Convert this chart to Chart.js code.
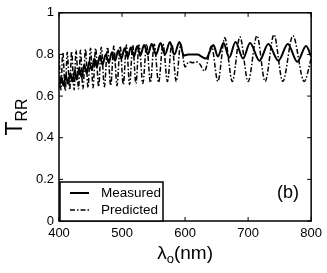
<!DOCTYPE html>
<html>
<head>
<meta charset="utf-8">
<script src="https://cdn.jsdelivr.net/npm/chart.js@4.4.0/dist/chart.umd.min.js"></script>
<style>
  html, body { margin: 0; padding: 0; background: #fff; }
  #wrap { width: 327px; height: 273px; }
</style>
</head>
<body>
<div id="wrap"><canvas id="trrChart"></canvas></div>
<script>
// ---- data (wavelength nm, T_RR) ----
const xTicks = [400, 500, 600, 700, 800];
const yTicks = [0, 0.2, 0.4, 0.6, 0.8, 1];

const measuredX = [400, 404, 407, 411, 414, 418, 421, 425, 428, 432, 436, 440, 444, 448, 452, 456, 460, 465, 469, 474,
  479, 484, 489, 494, 499, 504, 509, 514, 519, 524, 529, 535, 541, 547, 554, 561, 568, 576, 583, 591,
  598, 605, 612, 620, 626, 633, 645, 652, 661, 670, 680, 692, 703, 718, 732, 748, 763, 778, 792, 800];
const measuredY = [0.64, 0.69, 0.65, 0.70, 0.66, 0.71, 0.67, 0.72, 0.68, 0.735, 0.69, 0.75, 0.71, 0.765, 0.725, 0.78, 0.74, 0.795, 0.75, 0.80,
  0.76, 0.81, 0.77, 0.82, 0.78, 0.83, 0.785, 0.835, 0.79, 0.84, 0.795, 0.845, 0.80, 0.85, 0.80, 0.855, 0.80, 0.86, 0.80, 0.86,
  0.795, 0.80, 0.80, 0.80, 0.79, 0.78, 0.845, 0.79, 0.855, 0.785, 0.86, 0.78, 0.855, 0.77, 0.85, 0.77, 0.85, 0.765, 0.84, 0.79];

const predictedX = [400, 403, 406, 410, 413, 417, 420, 424, 427, 431, 434, 438, 442, 446, 450, 454, 458, 463, 467, 472,
  477, 482, 487, 492, 497, 502, 507, 512, 517, 522, 527, 533, 539, 545, 551, 558, 565, 572, 579, 586,
  593, 600, 606, 612, 617, 623, 631, 642, 652, 663, 675, 687, 700, 714, 727, 741, 755, 771, 789, 800];
const predictedY = [0.80, 0.63, 0.81, 0.625, 0.81, 0.63, 0.815, 0.63, 0.82, 0.635, 0.82, 0.635, 0.825, 0.64, 0.83, 0.64, 0.83, 0.645, 0.835, 0.645,
  0.835, 0.65, 0.84, 0.65, 0.84, 0.655, 0.845, 0.655, 0.845, 0.66, 0.845, 0.66, 0.85, 0.665, 0.85, 0.665, 0.85, 0.67, 0.85, 0.67,
  0.85, 0.74, 0.765, 0.76, 0.765, 0.755, 0.72, 0.84, 0.67, 0.88, 0.67, 0.885, 0.67, 0.89, 0.67, 0.895, 0.67, 0.89, 0.67, 0.78];

const toPoints = (xs, ys) => xs.map((x, i) => ({ x: x, y: ys[i] }));
const FONT = '"Liberation Sans", Arial, Helvetica, sans-serif';
const DASH_DOT = [5, 2, 1.5, 2];

// ---- matlab-ish frame: box, inward ticks, legend, titles ----
const framePlugin = {
  id: 'frame',
  afterDraw(chart) {
    const ctx = chart.ctx;
    const a = chart.chartArea;
    const sx = chart.scales.x, sy = chart.scales.y;
    ctx.save();
    ctx.strokeStyle = '#000';
    ctx.lineWidth = 1.5;
    ctx.strokeRect(a.left, a.top, a.right - a.left, a.bottom - a.top);

    // inward tick marks on all four sides
    ctx.lineWidth = 1;
    ctx.beginPath();
    xTicks.forEach(v => {
      const px = sx.getPixelForValue(v);
      ctx.moveTo(px, a.bottom); ctx.lineTo(px, a.bottom - 4);
      ctx.moveTo(px, a.top); ctx.lineTo(px, a.top + 4);
    });
    yTicks.forEach(v => {
      const py = sy.getPixelForValue(v);
      ctx.moveTo(a.left, py); ctx.lineTo(a.left + 4, py);
      ctx.moveTo(a.right, py); ctx.lineTo(a.right - 4, py);
    });
    ctx.stroke();

    // legend box, lower left
    const lx = a.left + 1, ly = 182, lw = 103, lh = a.bottom - ly;
    ctx.fillStyle = '#fff';
    ctx.fillRect(lx, ly, lw, lh);
    ctx.lineWidth = 1.5;
    ctx.strokeRect(lx, ly, lw, lh);
    ctx.lineWidth = 2;
    ctx.beginPath(); ctx.moveTo(70, 193); ctx.lineTo(89, 193); ctx.stroke();
    ctx.lineWidth = 1.4;
    ctx.setLineDash(DASH_DOT);
    ctx.beginPath(); ctx.moveTo(70, 210); ctx.lineTo(89, 210); ctx.stroke();
    ctx.setLineDash([]);
    ctx.fillStyle = '#000';
    ctx.font = '13.5px ' + FONT;
    ctx.textBaseline = 'middle';
    ctx.textAlign = 'left';
    ctx.fillText('Measured', 101, 193);
    ctx.fillText('Predicted', 101, 210);

    // panel tag
    ctx.font = '18px ' + FONT;
    ctx.fillText('(b)', 277, 193);

    // x title: λo(nm) with subscript o
    ctx.textBaseline = 'alphabetic';
    const big = '19px ' + FONT, small = '13px ' + FONT;
    ctx.font = big; const w1 = ctx.measureText('\u03bb').width, w3 = ctx.measureText('(nm)').width;
    ctx.font = small; const w2 = ctx.measureText('o').width;
    const x0 = (a.left + a.right) / 2 - (w1 + w2 + w3) / 2;
    const by = 259;
    ctx.font = big; ctx.fillText('\u03bb', x0, by);
    ctx.font = small; ctx.fillText('o', x0 + w1, by + 4);
    ctx.font = big; ctx.fillText('(nm)', x0 + w1 + w2, by);

    // y title: T_RR rotated
    ctx.translate(22, (a.top + a.bottom) / 2);
    ctx.rotate(-Math.PI / 2);
    const tBig = '23px ' + FONT, tSmall = '16px ' + FONT;
    ctx.font = tBig; const t1 = ctx.measureText('T').width;
    ctx.font = tSmall; const t2 = ctx.measureText('RR').width;
    const tx = -(t1 + t2) / 2;
    ctx.font = tBig; ctx.fillText('T', tx, 0);
    ctx.font = tSmall; ctx.fillText('RR', tx + t1, 5);
    ctx.restore();
  }
};

new Chart(document.getElementById('trrChart'), {
  type: 'line',
  data: {
    datasets: [
      {
        label: 'Predicted',
        data: toPoints(predictedX, predictedY),
        borderColor: '#000',
        borderWidth: 1.5,
        borderDash: DASH_DOT,
        pointRadius: 0,
        cubicInterpolationMode: 'monotone',
        fill: false
      },
      {
        label: 'Measured',
        data: toPoints(measuredX, measuredY),
        borderColor: '#000',
        borderWidth: 2,
        pointRadius: 0,
        cubicInterpolationMode: 'monotone',
        fill: false
      }
    ]
  },
  options: {
    responsive: true,
    maintainAspectRatio: false,
    animation: false,
    devicePixelRatio: 1,
    layout: { padding: { left: 0, top: 10, right: 11, bottom: 0 } },
    plugins: { legend: { display: false }, tooltip: { enabled: false } },
    scales: {
      x: {
        type: 'linear',
        min: 400, max: 800,
        afterBuildTicks: s => { s.ticks = xTicks.map(v => ({ value: v })); },
        afterFit: s => { s.height = 52; },
        grid: { display: false, drawTicks: false },
        border: { display: false },
        ticks: { color: '#000', padding: 5, maxRotation: 0, font: { family: FONT, size: 13 } }
      },
      y: {
        min: 0, max: 1,
        afterBuildTicks: s => { s.ticks = yTicks.map(v => ({ value: v })); },
        afterFit: s => { s.width = 59; },
        grid: { display: false, drawTicks: false },
        border: { display: false },
        ticks: { color: '#000', padding: 5, callback: v => String(v), font: { family: FONT, size: 13 } }
      }
    }
  },
  plugins: [framePlugin]
});
</script>
</body>
</html>
